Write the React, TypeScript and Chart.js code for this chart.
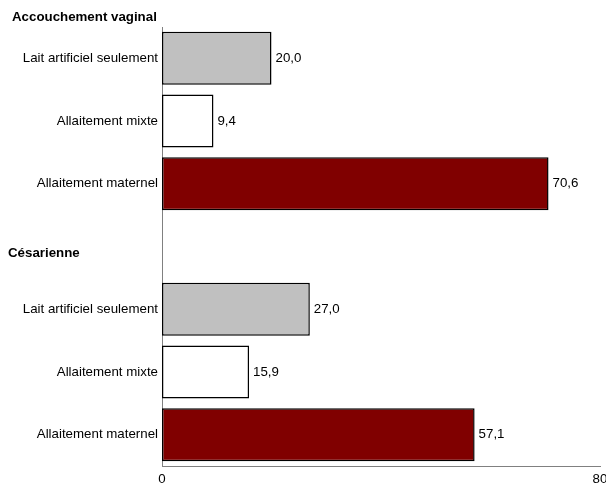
import React, { useEffect, useRef } from "react";
import { Chart, registerables } from "chart.js";

Chart.register(...registerables);

const categories = [
  "Lait artificiel seulement",
  "Allaitement mixte",
  "Allaitement maternel",
  "",
  "Lait artificiel seulement",
  "Allaitement mixte",
  "Allaitement maternel",
];
const values: (number | null)[] = [20.0, 9.4, 70.6, null, 27.0, 15.9, 57.1];
const groupTitles = ["Accouchement vaginal", "Césarienne"];
const xMin = 0;
const xMax = 80;

const FILL = ["#c0c0c0", "#ffffff", "#800000", "#ffffff", "#c0c0c0", "#ffffff", "#800000"];
const FONT = "Liberation Sans, Arial, sans-serif";
const SIZE = 13.3;

const fmt = (v: number) => v.toFixed(1).replace(".", ",");

const annotations = {
  id: "annotations",
  afterDatasetsDraw(chart: any) {
    const { ctx } = chart;
    const meta = chart.getDatasetMeta(0);
    ctx.save();
    ctx.font = `${SIZE}px ${FONT}`;
    ctx.fillStyle = "#000";
    ctx.textAlign = "left";
    ctx.textBaseline = "middle";
    meta.data.forEach((bar: any, i: number) => {
      const v = values[i];
      if (v == null) return;
      ctx.fillText(fmt(v), bar.x + 4, bar.y);
    });
    // group headings
    const y = chart.scales.y;
    ctx.font = `bold ${SIZE}px ${FONT}`;
    ctx.fillText(groupTitles[0], 12, chart.chartArea.top - 10);
    ctx.fillText(groupTitles[1], 8, y.getPixelForValue(3) + 7);
    ctx.restore();
  },
};

export default function App() {
  const ref = useRef<HTMLCanvasElement>(null);

  useEffect(() => {
    document.body.style.margin = "0";
    const chart = new Chart(ref.current!, {
      type: "bar",
      data: {
        labels: categories,
        datasets: [
          {
            data: values,
            backgroundColor: FILL,
            borderColor: "#000000",
            borderWidth: 1.5,
            borderSkipped: false,
            barPercentage: 0.845,
            categoryPercentage: 1,
          },
        ],
      },
      options: {
        indexAxis: "y",
        animation: false,
        responsive: false,
        devicePixelRatio: 1,
        layout: { padding: { top: 27, left: 0, right: 6, bottom: 0 } },
        plugins: { legend: { display: false }, tooltip: { enabled: false } },
        scales: {
          x: {
            min: xMin,
            max: xMax,
            grid: { display: false, drawTicks: false },
            border: { display: true, color: "#808080", width: 1 },
            ticks: {
              stepSize: xMax - xMin,
              color: "#000",
              font: { family: FONT, size: SIZE },
              padding: 5,
              maxRotation: 0,
            },
            afterFit(scale: any) {
              scale.height = 19;
              scale.paddingLeft = 0;
              scale.paddingRight = 0;
            },
          },
          y: {
            grid: { display: false, drawTicks: false },
            border: { display: true, color: "#808080", width: 1 },
            ticks: {
              color: "#000",
              font: { family: FONT, size: SIZE },
              padding: 4,
              autoSkip: false,
            },
            afterFit(scale: any) {
              scale.width = 162;
              scale.paddingTop = 0;
              scale.paddingBottom = 0;
            },
          },
        },
      },
      plugins: [annotations],
    });
    return () => chart.destroy();
  }, []);

  return (
    <div style={{ width: 606, height: 485 }}>
      <canvas ref={ref} width={606} height={485} />
    </div>
  );
}
